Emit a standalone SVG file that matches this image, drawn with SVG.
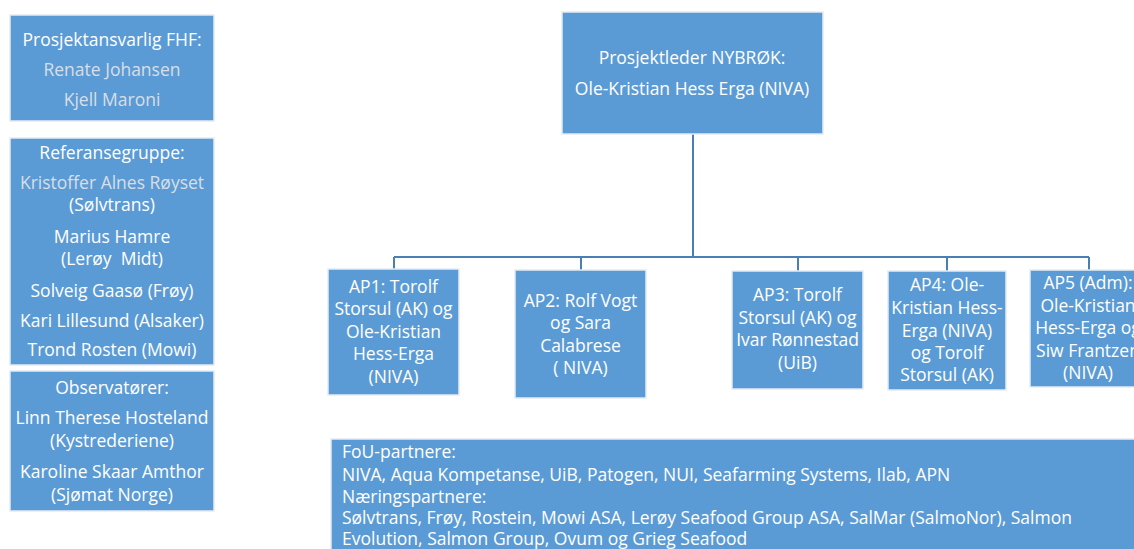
<svg xmlns="http://www.w3.org/2000/svg" width="1134" height="549" viewBox="0 0 1134 549">
<style>
.box{fill:#5b9bd5;stroke:#e4ebf4;stroke-width:1.5}
text{font-family:"Open Sans","Liberation Sans",sans-serif;font-size:17.5px;fill:#ffffff}
.c{text-anchor:middle}
.g{fill:#d9dee6}
.conn{fill:none;stroke:#4a7fb3;stroke-width:2}
</style>
<rect width="1134" height="549" fill="#ffffff"/>
<g id="fhf">
<rect class="box" x="10" y="15" width="204" height="106"/>
<text class="c" x="112" y="46">Prosjektansvarlig FHF:</text>
<text class="c g" x="112" y="76">Renate Johansen</text>
<text class="c g" x="112" y="106">Kjell Maroni</text>
</g>
<g id="referansegruppe">
<rect class="box" x="10" y="138" width="204" height="227"/>
<text class="c" x="112" y="159">Referansegruppe:</text>
<text class="c g" x="112" y="189">Kristoffer Alnes Røyset</text>
<text class="c" x="112" y="211">(Sølvtrans)</text>
<text class="c" x="112" y="243">Marius Hamre</text>
<text class="c" x="112" y="265" xml:space="preserve">(Lerøy  Midt)</text>
<text class="c" x="112" y="297">Solveig Gaasø (Frøy)</text>
<text class="c" x="112" y="327">Kari Lillesund (Alsaker)</text>
<text class="c" x="112" y="356">Trond Rosten (Mowi)</text>
</g>
<g id="observatorer">
<rect class="box" x="10" y="371" width="204" height="140"/>
<text class="c" x="112" y="394">Observatører:</text>
<text class="c" x="112" y="424">Linn Therese Hosteland</text>
<text class="c" x="112" y="447">(Kystrederiene)</text>
<text class="c" x="112" y="478">Karoline Skaar Amthor</text>
<text class="c" x="112" y="501">(Sjømat Norge)</text>
</g>
<g id="connectors">
<path class="conn" d="M693 134 V257"/>
<path class="conn" d="M394 257 H1089"/>
<path class="conn" d="M394 257 V269 M581 257 V270 M798 257 V271 M947 257 V271 M1089 257 V270"/>
</g>
<g id="prosjektleder">
<rect class="box" x="562" y="12" width="261" height="122"/>
<text class="c" x="692" y="64">Prosjektleder NYBRØK:</text>
<text class="c" x="692" y="95">Ole-Kristian Hess Erga (NIVA)</text>
</g>
<g id="ap1">
<rect class="box" x="328" y="269" width="131" height="126"/>
<text class="c" x="393.5" y="293">AP1: Torolf</text>
<text class="c" x="393.5" y="315">Storsul (AK) og</text>
<text class="c" x="393.5" y="338">Ole-Kristian</text>
<text class="c" x="393.5" y="360">Hess-Erga</text>
<text class="c" x="393.5" y="383">(NIVA)</text>
</g>
<g id="ap2">
<rect class="box" x="515" y="270" width="131" height="128"/>
<text class="c" x="580.5" y="307">AP2: Rolf Vogt</text>
<text class="c" x="580.5" y="329">og Sara</text>
<text class="c" x="580.5" y="352">Calabrese</text>
<text class="c" x="580.5" y="374">( NIVA)</text>
</g>
<g id="ap3">
<rect class="box" x="732" y="271" width="131" height="118"/>
<text class="c" x="797.5" y="301">AP3: Torolf</text>
<text class="c" x="797.5" y="324">Storsul (AK) og</text>
<text class="c" x="797.5" y="346">Ivar Rønnestad</text>
<text class="c" x="797.5" y="369">(UiB)</text>
</g>
<g id="ap4">
<rect class="box" x="888" y="271" width="118" height="119"/>
<text class="c" x="947" y="291">AP4: Ole-</text>
<text class="c" x="947" y="314">Kristian Hess-</text>
<text class="c" x="947" y="337">Erga (NIVA)</text>
<text class="c" x="947" y="359">og Torolf</text>
<text class="c" x="947" y="381">Storsul (AK)</text>
</g>
<g id="ap5">
<rect class="box" x="1030" y="270" width="120" height="117"/>
<text class="c" x="1088" y="289">AP5 (Adm):</text>
<text class="c" x="1088" y="312">Ole-Kristian</text>
<text class="c" x="1088" y="334">Hess-Erga og</text>
<text class="c" x="1088" y="357">Siw Frantzen</text>
<text class="c" x="1088" y="379">(NIVA)</text>
</g>
<g id="partnere">
<rect class="box" x="331" y="439" width="820" height="120"/>
<text x="342" y="458">FoU-partnere:</text>
<text x="342" y="481">NIVA, Aqua Kompetanse, UiB, Patogen, NUI, Seafarming Systems, Ilab, APN</text>
<text x="342" y="503">Næringspartnere:</text>
<text x="342" y="524">Sølvtrans, Frøy, Rostein, Mowi ASA, Lerøy Seafood Group ASA, SalMar (SalmoNor), Salmon</text>
<text x="342" y="545">Evolution, Salmon Group, Ovum og Grieg Seafood</text>
</g>
</svg>
